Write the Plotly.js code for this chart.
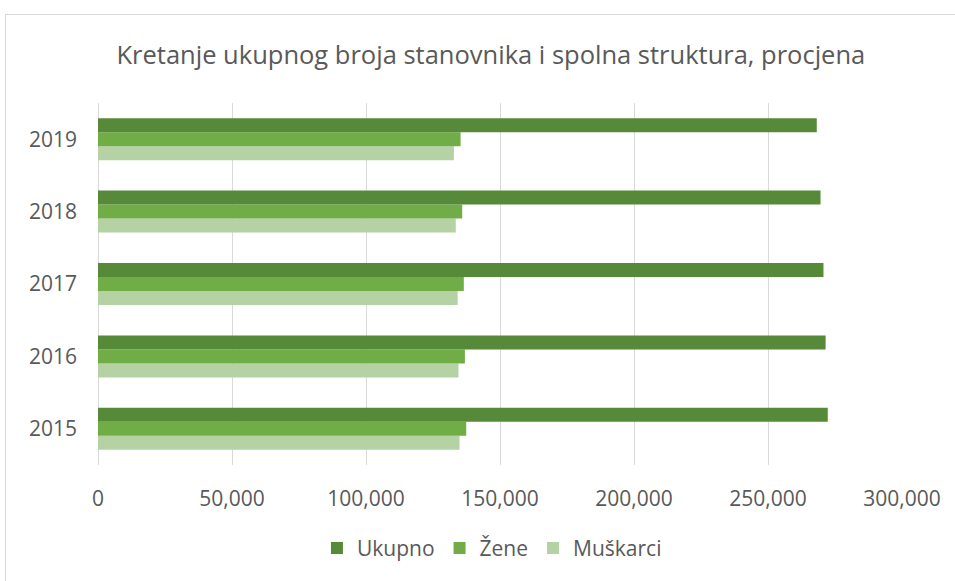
<!DOCTYPE html>
<html>
<head>
<meta charset="utf-8">
<script src="https://cdn.plot.ly/plotly-3.0.1.min.js"></script>
<style>
html,body{margin:0;padding:0;background:#fff;overflow:hidden;}
#frame{position:absolute;left:5px;top:14px;width:1000px;height:700px;border:1px solid #d9d9d9;box-sizing:border-box;}
#chart{position:absolute;left:0;top:0;width:955px;height:581px;}
</style>
</head>
<body>
<div id="frame"></div>
<div id="chart"></div>
<script>
const years = ['2015', '2016', '2017', '2018', '2019'];
const ukupno = [272300, 271500, 270700, 269600, 268200];
const zene = [137400, 136900, 136500, 135900, 135300];
const muskarci = [134900, 134500, 134200, 133500, 132800];
const seriesNames = ['Ukupno', 'Žene', 'Muškarci'];
const xTickVals = [0, 50000, 100000, 150000, 200000, 250000, 300000];

const colors = {Ukupno: '#578a38', 'Žene': '#70ad47', 'Muškarci': '#b4d2a4'};
const seriesData = {Ukupno: ukupno, 'Žene': zene, 'Muškarci': muskarci};

// draw bottom-to-top within a group: Muškarci, Žene, Ukupno
const traces = seriesNames.slice().reverse().map(name => ({
  type: 'bar',
  orientation: 'h',
  name: name,
  y: years,
  x: seriesData[name],
  marker: {color: colors[name], line: {width: 0}},
  hoverinfo: 'x+name'
}));

const font = "'Open Sans', 'Noto Sans', sans-serif";
const layout = {
  width: 955,
  height: 581,
  margin: {l: 98, r: 53, t: 103, b: 114},
  paper_bgcolor: 'rgba(0,0,0,0)',
  plot_bgcolor: 'rgba(0,0,0,0)',
  font: {family: font, color: '#595959', size: 21},
  title: {
    text: 'Kretanje ukupnog broja stanovnika i spolna struktura, procjena',
    font: {family: font, size: 25.5, color: '#595959'},
    x: 0.514, xanchor: 'center', xref: 'container',
    y: 1 - 55 / 581, yanchor: 'middle', yref: 'container'
  },
  barmode: 'group',
  bargap: 0.42,
  bargroupgap: 0,
  xaxis: {
    range: [0, 300000],
    tickvals: xTickVals,
    tickformat: ',d',
    showgrid: true,
    gridcolor: '#d9d9d9',
    gridwidth: 1,
    zeroline: true,
    zerolinecolor: '#d9d9d9',
    zerolinewidth: 1,
    showline: false,
    ticks: '',
    ticklabelstandoff: 19,
    tickfont: {family: font, size: 21, color: '#595959'},
    fixedrange: true
  },
  yaxis: {
    type: 'category',
    categoryorder: 'array',
    categoryarray: years,
    showgrid: false,
    zeroline: false,
    showline: false,
    ticks: '',
    ticklabelstandoff: 20,
    tickfont: {family: font, size: 21, color: '#595959'},
    fixedrange: true
  },
  showlegend: true,
  legend: {
    orientation: 'h',
    traceorder: 'reversed',
    x: 0.49, xanchor: 'center',
    y: -0.23, yanchor: 'middle',
    itemgap: 0,
    font: {family: font, size: 21, color: '#595959'},
    bgcolor: 'rgba(0,0,0,0)'
  }
};

Plotly.newPlot('chart', traces, layout, {displayModeBar: false, staticPlot: true});
</script>
</body>
</html>
